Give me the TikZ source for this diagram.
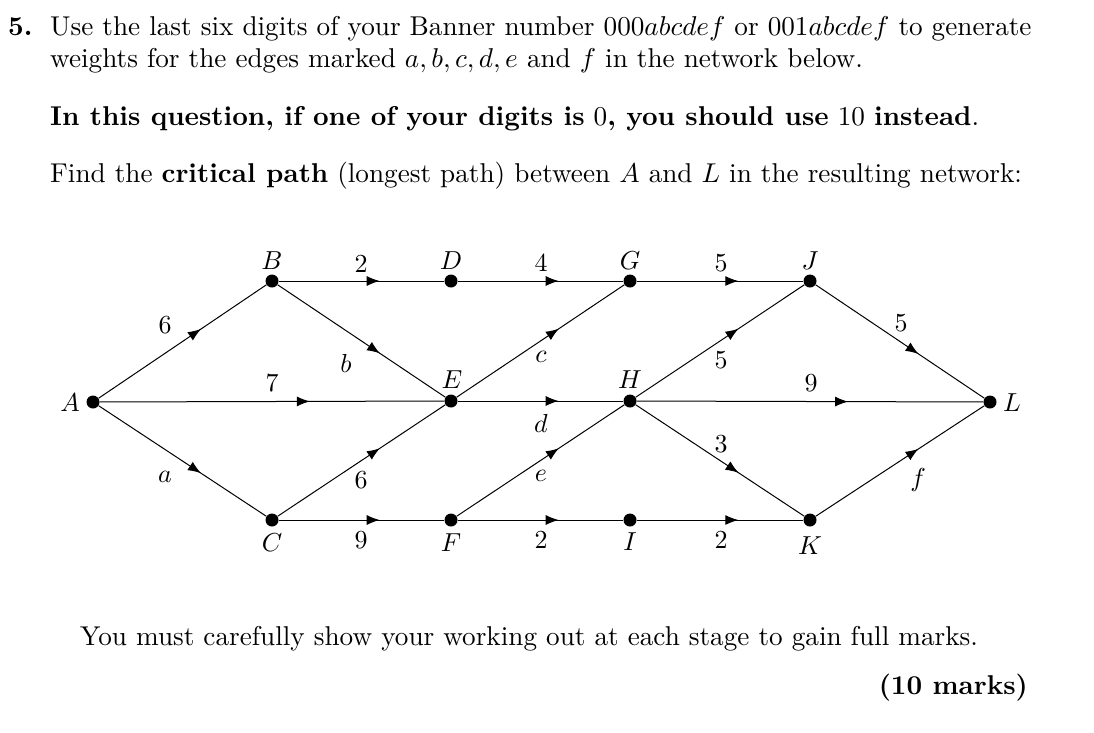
\documentclass[tikz,border=0pt]{standalone}
\usetikzlibrary{arrows.meta,decorations.markings}
\newcommand\tsc[1]{\scalebox{2.72}{#1}}
\newcommand\gl[1]{\scalebox{2.6}{$#1$}}
\begin{document}
\begin{tikzpicture}[x=1pt,y=-1pt,
  txt/.style={anchor=base west,inner sep=0pt,font=\fontsize{10}{12}\selectfont},
  dot/.style={circle,fill=black,inner sep=0pt,minimum size=13pt},
  lbl/.style={inner sep=0pt,font=\fontsize{10}{12}\selectfont},
  edge/.style={line width=1pt,postaction={decorate},decoration={markings,
    mark=at position 0.61 with {\arrow{Latex[length=13pt,width=10pt]}}}}]
\useasboundingbox[fill=white] (0,0) rectangle (1094,732);
% text
\node[txt] (n5) at (8,35) {\tsc{\textbf{5.}}};
\node[txt] (t1) at (50,35) {\tsc{Use the last six digits of your Banner number $000abcdef$ or $001abcdef$ to generate}};
\node[txt] (t2) at (50,67) {\tsc{weights for the edges marked $a, b, c, d, e$ and $f$ in the network below.}};
\node[txt] (t3) at (50,125) {\tsc{\textbf{In this question, if one of your digits is} $0$\textbf{, you should use} $10$ \textbf{instead}.}};
\node[txt] (t4) at (50,182) {\tsc{Find the \textbf{critical path} (longest path) between $A$ and $L$ in the resulting network:}};
\node[txt] (t5) at (80,645) {\tsc{You must carefully show your working out at each stage to gain full marks.}};
\node[txt,anchor=base east] (t6) at (1028,694) {\tsc{\textbf{(10 marks)}}};
% nodes
\node[dot] (A) at (93,402) {};
\node[dot] (B) at (272,281) {};
\node[dot] (D) at (451,281) {};
\node[dot] (G) at (630,281) {};
\node[dot] (J) at (810,281) {};
\node[dot] (E) at (451,401) {};
\node[dot] (H) at (630,401) {};
\node[dot] (L) at (990,402) {};
\node[dot] (C) at (272,520) {};
\node[dot] (F) at (451,520) {};
\node[dot] (I) at (630,520) {};
\node[dot] (K) at (810,520) {};
% node labels
\node[lbl] (lB) at (272,261) {\gl{B}};
\node[lbl] (lD) at (451,261) {\gl{D}};
\node[lbl] (lG) at (630,261) {\gl{G}};
\node[lbl] (lJ) at (810,261) {\gl{J}};
\node[lbl] (lE) at (452,380) {\gl{E}};
\node[lbl] (lH) at (630,380) {\gl{H}};
\node[lbl] (lA) at (70,403) {\gl{A}};
\node[lbl] (lL) at (1012,403) {\gl{L}};
\node[lbl] (lC) at (272,543) {\gl{C}};
\node[lbl] (lF) at (451,543) {\gl{F}};
\node[lbl] (lI) at (630,542) {\gl{I}};
\node[lbl] (lK) at (810,546) {\gl{K}};
% edges
\draw[edge] (A) -- (B);
\draw[edge] (A) -- (E);
\draw[edge] (A) -- (C);
\draw[edge] (B) -- (D);
\draw[edge] (B) -- (E);
\draw[edge] (C) -- (E);
\draw[edge] (C) -- (F);
\draw[edge] (D) -- (G);
\draw[edge] (E) -- (G);
\draw[edge] (E) -- (H);
\draw[edge] (F) -- (H);
\draw[edge] (F) -- (I);
\draw[edge] (G) -- (J);
\draw[edge] (H) -- (J);
\draw[edge] (H) -- (L);
\draw[edge] (H) -- (K);
\draw[edge] (I) -- (K);
\draw[edge] (J) -- (L);
\draw[edge] (K) -- (L);
% edge labels
\node[lbl] (wBD) at (361,264) {\gl{2}};
\node[lbl] (wDG) at (541,263) {\gl{4}};
\node[lbl] (wGJ) at (721,263) {\gl{5}};
\node[lbl] (wAB) at (165,325) {\gl{6}};
\node[lbl] (wAE) at (272,383) {\gl{7}};
\node[lbl] (wAC) at (165,477) {\gl{a}};
\node[lbl] (wBE) at (346,363) {\gl{b}};
\node[lbl] (wCE) at (361,480) {\gl{6}};
\node[lbl] (wCF) at (361,540) {\gl{9}};
\node[lbl] (wEG) at (541,357) {\gl{c}};
\node[lbl] (wEH) at (541,423) {\gl{d}};
\node[lbl] (wFH) at (541,476) {\gl{e}};
\node[lbl] (wFI) at (541,540) {\gl{2}};
\node[lbl] (wHJ) at (721,360) {\gl{5}};
\node[lbl] (wHL) at (811,383) {\gl{9}};
\node[lbl] (wHK) at (721,444) {\gl{3}};
\node[lbl] (wIK) at (721,540) {\gl{2}};
\node[lbl] (wJL) at (901,323) {\gl{5}};
\node[lbl] (wKL) at (918,480) {\gl{f}};
\end{tikzpicture}
\end{document}
